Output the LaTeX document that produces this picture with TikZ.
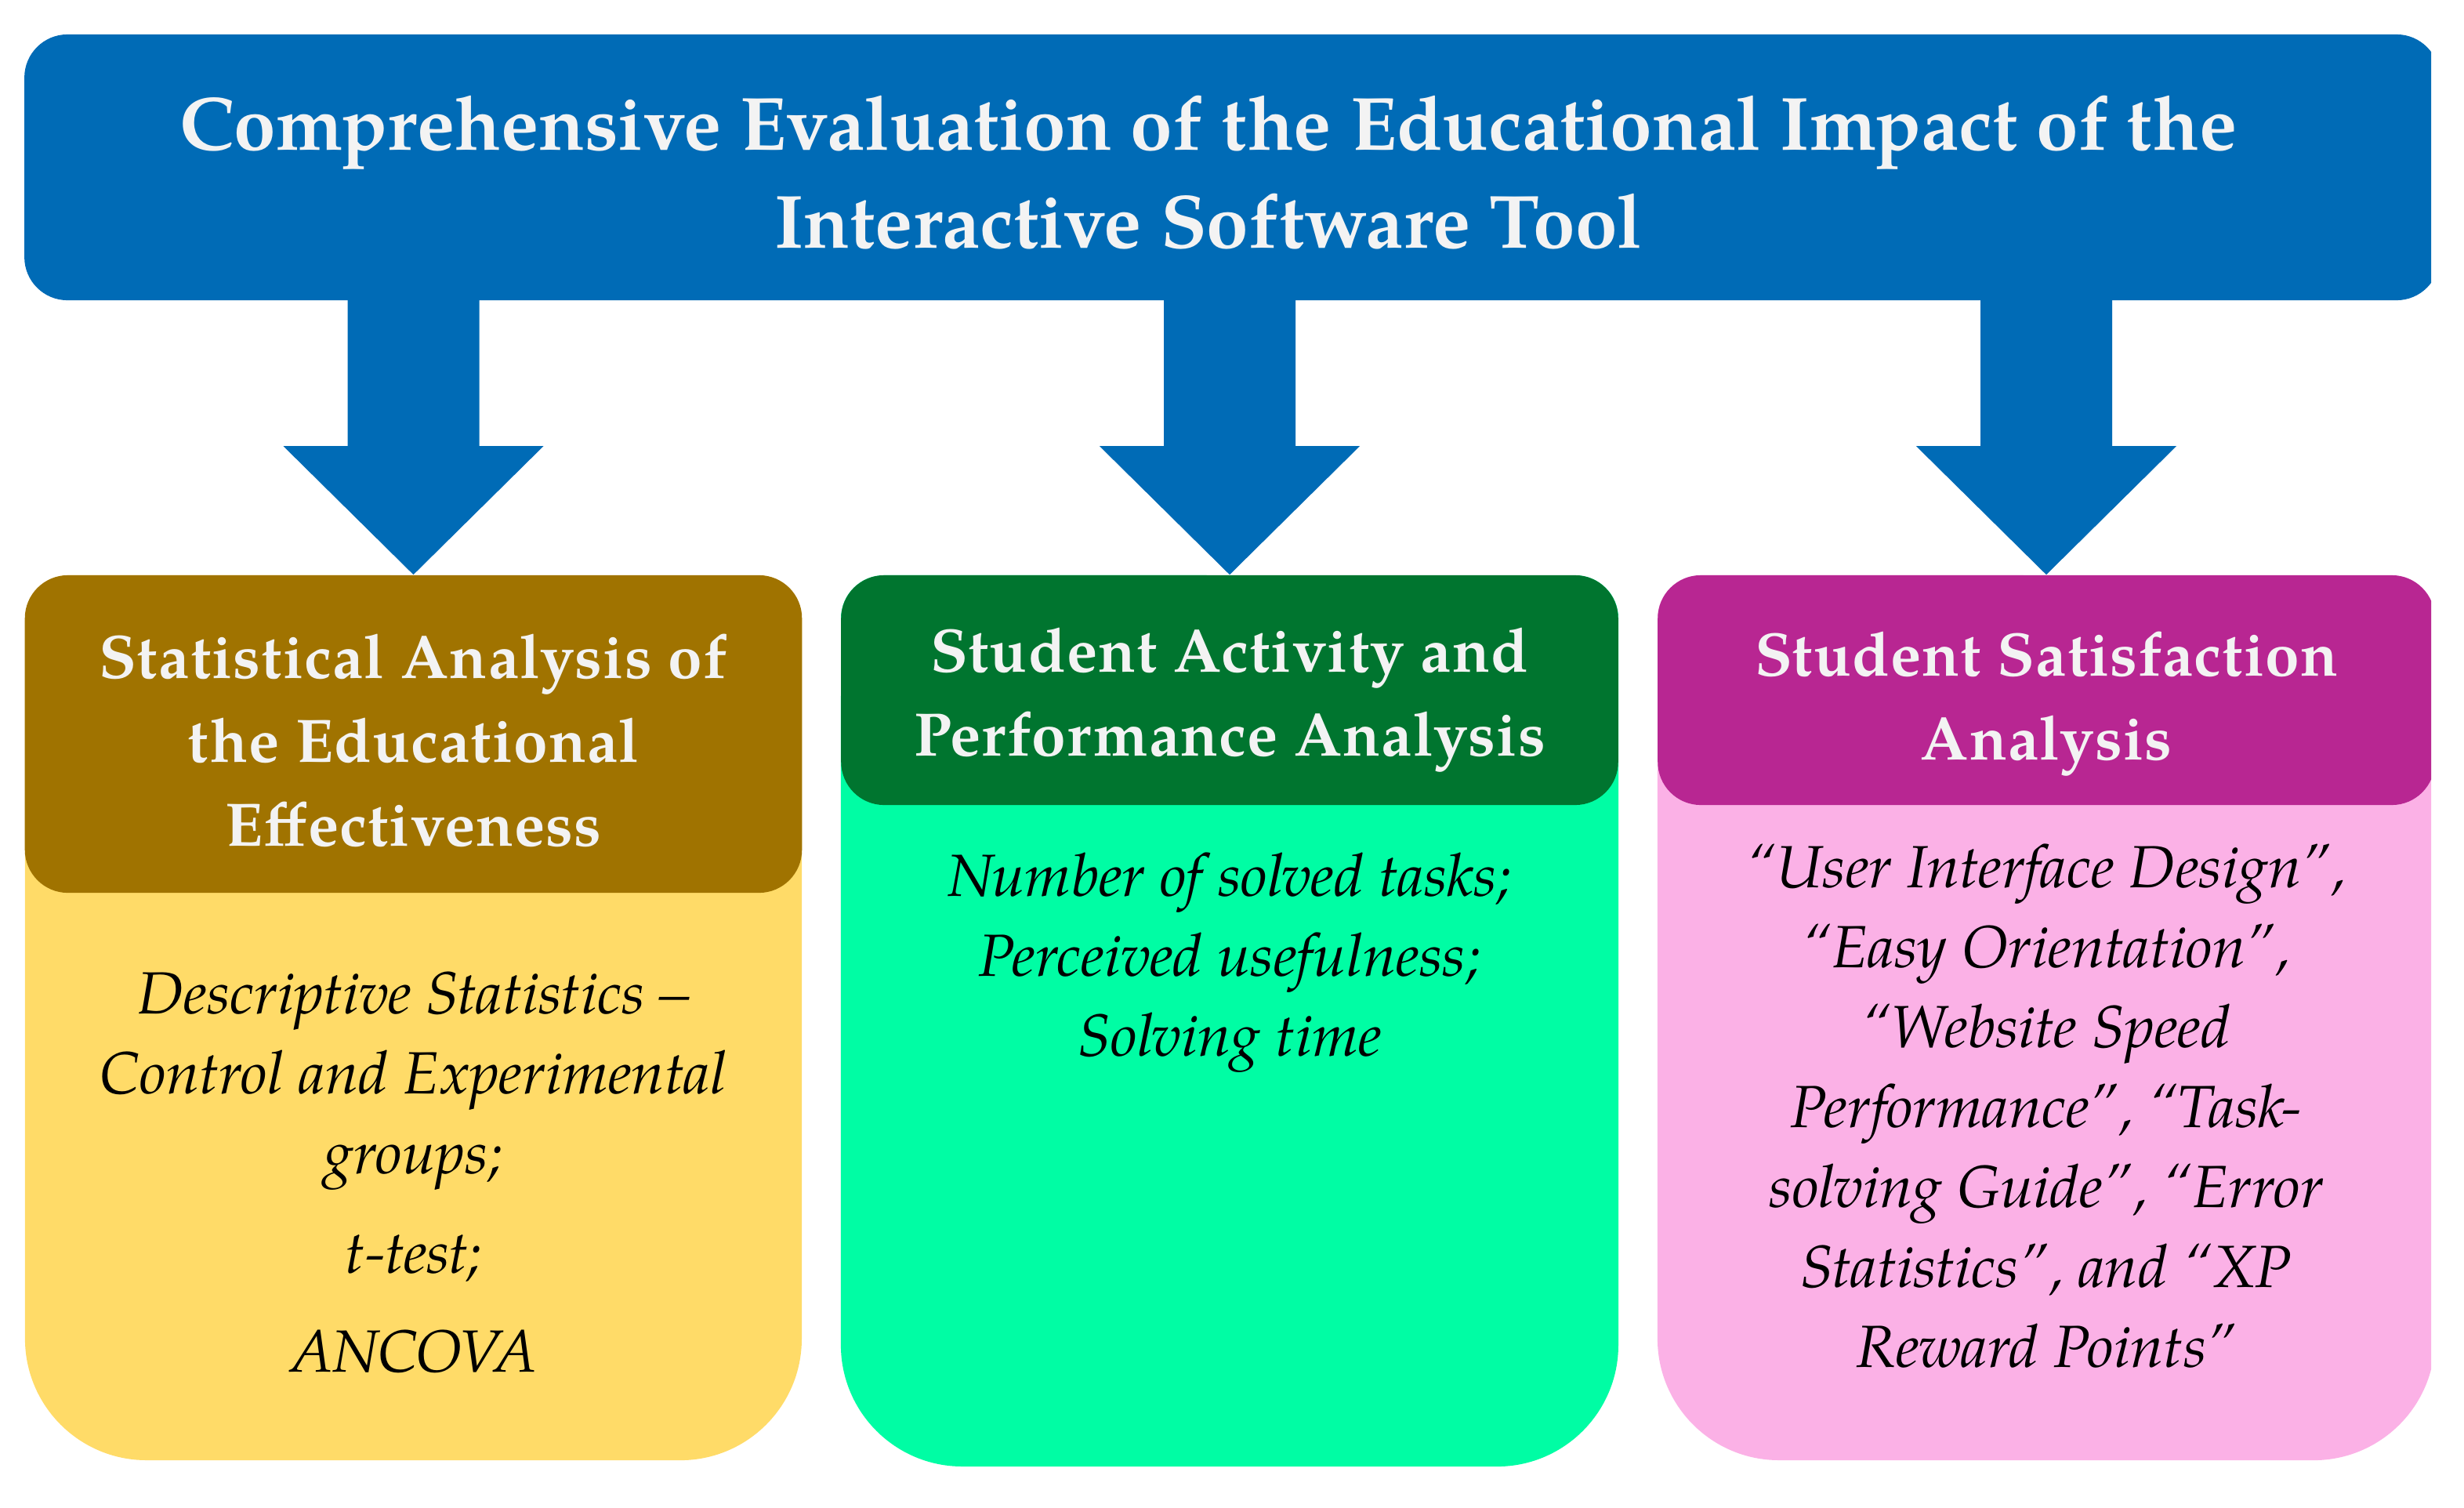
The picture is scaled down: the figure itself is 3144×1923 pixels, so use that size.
\documentclass[tikz,border=0pt]{standalone}
\usepackage{fontspec}
\setmainfont{TeX Gyre Pagella}
\newfontfamily\titlefont{TeX Gyre Pagella}
\newfontfamily\hdfont{TeX Gyre Pagella}[LetterSpace=1.5]
\usetikzlibrary{calc}
\definecolor{bannerblue}{RGB}{0,107,182}
\definecolor{hdbrown}{RGB}{160,115,0}
\definecolor{bdyellow}{RGB}{255,219,104}
\definecolor{hdgreen}{RGB}{0,117,47}
\definecolor{bdmint}{RGB}{0,253,164}
\definecolor{hdmagenta}{RGB}{184,38,146}
\definecolor{bdpink}{RGB}{251,177,230}
\definecolor{offwhite}{RGB}{243,243,243}
\newcommand\mybody[5]{%
  \fill[#5] (#1,#3) ++(0,-55) arc[start angle=180,end angle=90,radius=0.55cm]
    -- ($(#2,#3)+(-55,0)$) arc[start angle=90,end angle=0,radius=0.55cm]
    -- ($(#2,#4)+(0,155)$) arc[start angle=0,end angle=-90,radius=1.55cm]
    -- ($(#1,#4)+(155,0)$) arc[start angle=270,end angle=180,radius=1.55cm] -- cycle;}
\tikzset{
  banner/.style={rectangle, rounded corners=0.55cm, fill=bannerblue, inner sep=0pt},
  hdbox/.style={rectangle, rounded corners=0.55cm, inner sep=0pt, minimum width=9.91cm},
  blockarrow/.style={fill=bannerblue},
  titletext/.style={text=offwhite, align=center, inner sep=0pt,
    font=\titlefont\bfseries\fontsize{27.4}{35.6}\selectfont},
  hdtext/.style={text=offwhite, align=center, inner sep=0pt,
    font=\hdfont\bfseries\fontsize{22.3}{30.4}\selectfont},
  bdtext/.style={text=black, align=center, inner sep=0pt,
    font=\itshape\fontsize{21.6}{29}\selectfont},
}
\begin{document}
\begin{tikzpicture}[x=0.01cm,y=0.01cm]
\useasboundingbox (0,0) rectangle (3144,-1923);
\fill[white] (0,0) rectangle (3144,-1923);
\begin{scope}
\clip (0,0) rectangle (3102,-1923);
% banner
\node[banner, minimum width=30.80cm, minimum height=3.39cm] (banner) at (1572,-213.5) {};
% bodies
\mybody{32}{1023}{-734}{-1863}{bdyellow}
\mybody{1073}{2065}{-734}{-1871}{bdmint}
\mybody{2115}{3107}{-734}{-1863}{bdpink}
% headers
\node[hdbox, fill=hdbrown, minimum height=4.05cm] (h1) at (527.5,-936.5) {};
\node[hdbox, fill=hdgreen, minimum height=2.93cm] (h2) at (1569,-880.5) {};
\node[hdbox, fill=hdmagenta, minimum height=2.93cm] (h3) at (2611,-880.5) {};
% block arrows from banner to boxes
\foreach \b in {h1,h2,h3}{
  \fill[blockarrow] (\b.north) -- ++(-166,164) -- ++(82,0) -- ++(0,200)
    -- ++(168,0) -- ++(0,-200) -- ++(82,0) -- cycle;
}
\end{scope}
% texts
\node[titletext] (title) at (1542,-220)
  {Comprehensive Evaluation of the Educational Impact of the\\Interactive Software Tool};
\node[hdtext] (t1) at (527.5,-945) {Statistical Analysis of\\the Educational\\Effectiveness};
\node[hdtext] (t2) at (1569,-893) {Student Activity and\\Performance Analysis};
\node[hdtext] (t3) at (2611,-898) {Student Satisfaction\\Analysis};
\node[bdtext] (b1) at (527.5,-1496)
  {Descriptive Statistics –\\Control and Experimental\\groups;\\[7pt]t-test;\\[7pt]ANCOVA};
\node[bdtext] (b2) at (1569,-1228)
  {Number of solved tasks;\\Perceived usefulness;\\Solving time};
\node[bdtext] (b3) at (2611,-1411)
  {“User Interface Design”,\\“Easy Orientation”,\\“Website Speed\\Performance”, “Task-\\solving Guide”, “Error\\Statistics”, and “XP\\Reward Points”};
\end{tikzpicture}
\end{document}
